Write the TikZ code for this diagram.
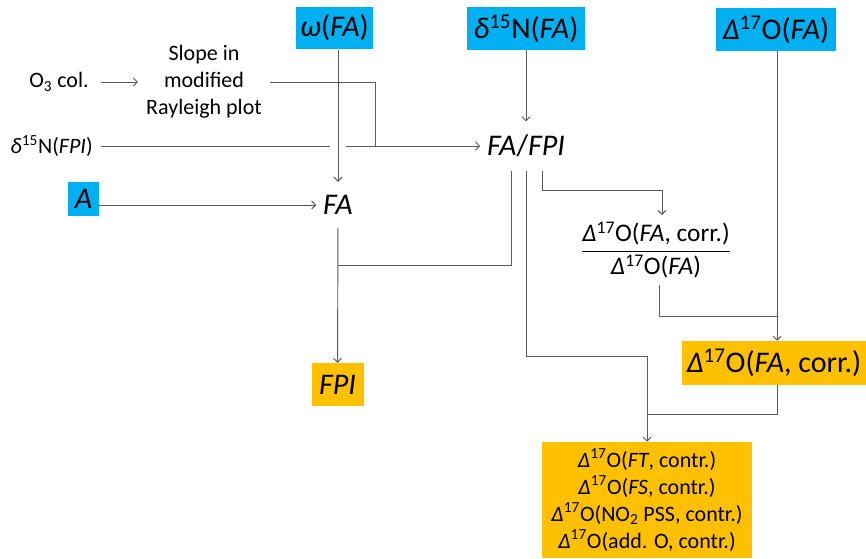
\documentclass[tikz,border=0pt]{standalone}
\usepackage{amsmath}
\usepackage{fontspec}
\setmainfont{Carlito}
\usepackage{tikz}
\usetikzlibrary{arrows.meta,positioning,calc}
\definecolor{inblue}{HTML}{00B0F0}
\definecolor{outorange}{HTML}{FFC000}

\begin{document}
\begin{tikzpicture}[
  x=0.75pt, y=-0.75pt,
  big/.style={font=\fontsize{22.5}{26}\selectfont},
  mid/.style={font=\fontsize{19}{22}\selectfont},
  small/.style={font=\fontsize{16.5}{20.25}\selectfont},
  inbox/.style={
     rectangle, fill=inblue, big,
     inner sep=0pt, minimum height=32pt},
  outbox/.style={
     rectangle, fill=outorange,
     inner sep=0pt, align=center},
  label/.style={small, inner xsep=6pt, inner ysep=3pt, align=center},
  term/.style={big, inner xsep=5pt, inner ysep=10pt},
  link/.style={draw=black!65, line width=0.7pt},
  arrow/.style={link, -{Straight Barb[length=3pt,width=6pt]}}]
\useasboundingbox (0,0) rectangle (866,558);
% inputs
\node[inbox, minimum width=58pt] (wFA) at (334.5,28) {\textit{ω}(\textit{FA})};
\node[inbox, minimum width=89pt] (dFA) at (526,28.5) {\textit{δ}\textsuperscript{15}N(\textit{FA})};
\node[inbox, minimum width=90pt] (DFA) at (776,29.5) {\textit{Δ}\textsuperscript{17}O(\textit{FA})};
\node[inbox, minimum width=23.5pt, minimum height=26pt] (A) at (83.5,199) {\textit{A}};
\node[label, inner xsep=9pt] (O3) at (59,82) {O\textsubscript{3} col.};
\node[label] (slope) at (204,82) {Slope in\\modified\\Rayleigh plot};
\node[label] (dFPI) at (51.5,146) {\textit{δ}\textsuperscript{15}N(\textit{FPI})};
% intermediate terms
\node[term] (FA) at (338,205) {\textit{FA}};
\node[term] (FAFPI) at (526,146) {\textit{FA}/\textit{FPI}};
\node[mid, inner sep=5pt] (ratio) at (656,250)
  {$\dfrac{\text{\textit{Δ}\textsuperscript{17}O(\textit{FA}, corr.)}}{\text{\textit{Δ}\textsuperscript{17}O(\textit{FA})}}$};
% outputs
\node[outbox, big, minimum width=39pt, minimum height=32pt] (FPI) at (337.5,384.5) {\textit{FPI}};
\node[outbox, big, minimum width=138pt, minimum height=33pt]
  (corr) at (774,363) {\textit{Δ}\textsuperscript{17}O(\textit{FA}, corr.)};
\node[outbox, small, minimum width=157.5pt, minimum height=87pt] (contr) at (647,500)
  {\textit{Δ}\textsuperscript{17}O(\textit{FT}, contr.)\\
   \textit{Δ}\textsuperscript{17}O(\textit{FS}, contr.)\\
   \textit{Δ}\textsuperscript{17}O(NO\textsubscript{2} PSS, contr.)\\
   \textit{Δ}\textsuperscript{17}O(add. O, contr.)};
% junctions
\coordinate (join1) at (375,146);
\coordinate (gapL) at (330,146);
\coordinate (gapR) at (346,146);
\coordinate (join2) at (338,265);
\coordinate (bend3) at (647,356);
\coordinate (join4) at (647,414);
\coordinate (join5) at (777,316);
% connectors
\draw[arrow] (O3) -- (slope);
\draw[link] (slope.east) -| (join1);
\draw[link] (dFPI.east) -- (gapL);
\draw[link] (gapR) -- (join1);
\draw[arrow] (join1) -- (FAFPI.west);
\draw[arrow] (wFA.south -| FA) -- (FA);
\draw[arrow] (A.east |- FA) -- (FA);
\draw[arrow] (FA) -- (FPI);
\draw[arrow] (dFA) -- (FAFPI);
\draw[link] ($(FAFPI.south)+(-15,0)$) |- (join2);
\draw[arrow] (FAFPI.south) |- (bend3) -- (contr.north);
\draw[arrow] ($(FAFPI.south)+(16,0)$) |- ($(FAFPI.south)+(16,20)$) -| ($(ratio.north)+(6,0)$);
\draw[link] ($(ratio.south)+(3,0)$) |- (join5);
\draw[arrow] (DFA.south -| join5) -- (join5 |- corr.north);
\draw[link] (join5 |- corr.south) |- (join4);
\end{tikzpicture}
\end{document}
